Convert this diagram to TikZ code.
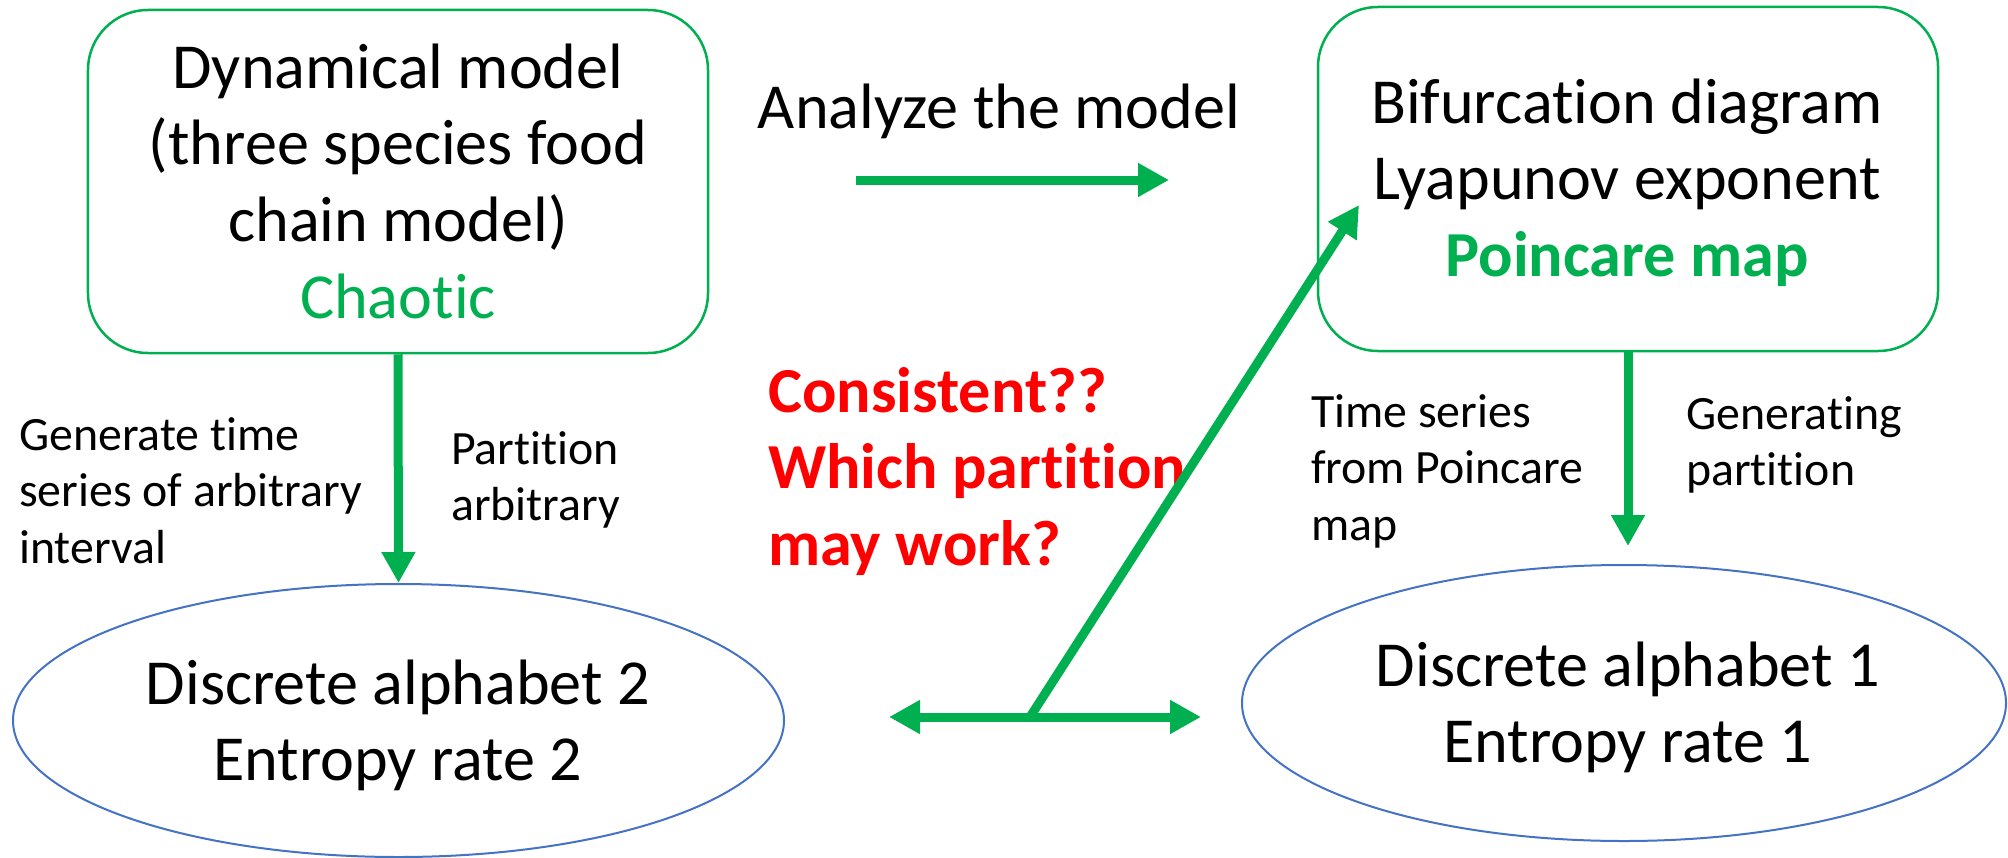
\documentclass[tikz,border=0pt]{standalone}
\usepackage{fontspec}
\setmainfont{Carlito}[Ligatures=NoCommon]
\usetikzlibrary{arrows.meta,shapes.geometric}
\definecolor{okgreen}{RGB}{0,176,80}
\definecolor{alarmred}{RGB}{255,0,0}
\definecolor{rimblue}{RGB}{68,114,196}
% fixes the top of a multi-line label a known distance above its first baseline
\newcommand\firstlinetop{\rule{0pt}{0.75em}}

\begin{document}
\begin{tikzpicture}[x=1bp,y=-1bp,
  big/.style={font=\fontsize{64.4}{77}\selectfont, align=center, anchor=north, inner sep=0pt},
  small/.style={font=\fontsize{48}{57}\selectfont, align=left, anchor=north west, inner sep=0pt},
  question/.style={font=\fontsize{64.4}{77}\selectfont\bfseries, text=alarmred, align=left, anchor=north west, inner sep=0pt},
  modelbox/.style={draw=okgreen, line width=2.5bp, rounded corners=60bp, minimum width=620bp, inner sep=0pt},
  stateellipse/.style={ellipse, draw=rimblue, line width=2bp, inner sep=0pt},
  flow/.style={draw=okgreen, line width=9bp, -{Triangle[length=31bp,width=32bp]}},
]
\useasboundingbox (0,0) rectangle (2008,858);

% boxes and ellipses
\node[modelbox, minimum height=343bp] (model) at (398,181.5) {};
\node[modelbox, minimum height=344bp] (bif) at (1628,179) {};
\node[stateellipse, minimum width=771bp, minimum height=273bp] (alpha2) at (398.5,720.5) {};
\node[stateellipse, minimum width=764bp, minimum height=276bp] (alpha1) at (1624,703) {};

% their contents
\node[big] (model-text) at (398,39.7)
  {\firstlinetop Dynamical model\\(three species food\\chain model)\\\textcolor{okgreen}{Chaotic}};
\node[big] (bif-text) at (1627,74.7)
  {\firstlinetop Bifurcation diagram\\Lyapunov exponent\\\textcolor{okgreen}{\bfseries Poincare map}};
\node[big] (alpha2-text) at (398,655.7) {\firstlinetop Discrete alphabet 2\\Entropy rate 2};
\node[big] (alpha1-text) at (1628,637.7) {\firstlinetop Discrete alphabet 1\\Entropy rate 1};

% free texts
\node[big, anchor=base] (analyze) at (999,128) {Analyze the model};
\node[question] (consistent) at (768,363.7)
  {\firstlinetop Consistent??\\Which partition\\may work?};
\node[small] (lbl-gen) at (19,414) {\firstlinetop Generate time\\series of arbitrary\\interval};
\node[small] (lbl-part) at (451,428) {\firstlinetop Partition\\arbitrary};
\node[small] (lbl-ts) at (1311,391) {\firstlinetop Time series\\from Poincare\\map};
\node[small] (lbl-genp) at (1686,393) {\firstlinetop Generating\\partition};

% free arrow ends
\coordinate (an-start) at (856,180);
\coordinate (an-end) at (1169,180);
\coordinate (cmp-left) at (889,717);
\coordinate (cmp-right) at (1201,717);
\coordinate (cmp-fork) at (1030,717);
\coordinate (poin-in) at (1359,205);

% arrows
\draw[flow] (an-start) -- (an-end);
\draw[flow] (model.south) -- (alpha2.north);
\draw[flow, shorten >=18bp] (bif.south) -- (bif.south |- alpha1.north);
\draw[flow, {Triangle[length=31bp,width=32bp]}-{Triangle[length=31bp,width=32bp]}] (cmp-left) -- (cmp-right);
\draw[flow] (cmp-fork) -- (poin-in);
\end{tikzpicture}
\end{document}
